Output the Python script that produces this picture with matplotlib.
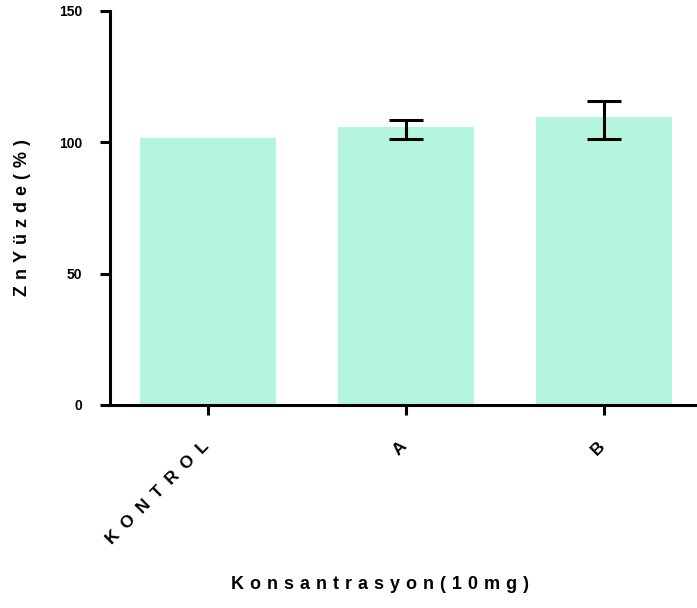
import numpy as np
import matplotlib
matplotlib.use("Agg")
import matplotlib.pyplot as plt
import matplotlib.transforms as mtransforms

plt.rcParams["font.family"] = ["Liberation Sans", "DejaVu Sans"]
plt.rcParams["font.weight"] = "bold"

groups = ["KONTROL", "A", "B"]
means = [101.5, 106.0, 109.8]
err_low = [0.0, 4.6, 8.4]
err_high = [0.0, 2.6, 5.9]
yticks = [0, 50, 100, 150]


def spaced(s, sep="\u2004"):
    # wide letter spacing like the original export
    return sep.join(s)


fig = plt.figure(figsize=(6.97, 6.08), dpi=100)
ax = fig.add_axes([0.158, 0.334, 0.842, 0.648])

x = np.arange(len(groups))
ax.bar(x, means, width=0.69, color="#b4f5de", zorder=1)
ax.errorbar(x[1:], means[1:], yerr=[err_low[1:], err_high[1:]], fmt="none",
            ecolor="black", elinewidth=2.2, capsize=12, capthick=2.2, zorder=2)

ax.set_xlim(-0.495, 2.47)
ax.set_ylim(0, 150)
ax.set_yticks(yticks)
ax.set_yticklabels([str(v) for v in yticks], fontsize=10, fontweight="bold")
ax.set_xticks(x)
ax.set_xticklabels([spaced(g, "\u2002") for g in groups], rotation=45,
                   ha="right", rotation_mode="anchor", fontsize=12.5,
                   fontweight="bold")

for side in ["top", "right"]:
    ax.spines[side].set_visible(False)
for side in ["left", "bottom"]:
    ax.spines[side].set_linewidth(2.2)
ax.tick_params(axis="both", length=7, width=2.2)
ax.tick_params(axis="y", pad=13)
ax.tick_params(axis="x", pad=20)

# nudge rotated labels (after tick_params, which resets transforms)
shift = mtransforms.ScaledTranslation(-5 / 72, 3 / 72, fig.dpi_scale_trans)
for lbl in ax.get_xticklabels():
    lbl.set_transform(lbl.get_transform() + shift)

ax.set_ylabel(spaced("ZnYüzde(%)"), fontsize=13, fontweight="bold")
ax.yaxis.set_label_coords(-0.15, 0.475)
ax.yaxis.label.set_va("center")
ax.set_xlabel(spaced("Konsantrasyon(10mg)"), fontsize=13, fontweight="bold")
ax.xaxis.set_label_coords(0.46, -0.457)
ax.xaxis.label.set_va("center")

fig.savefig("out.png", dpi=100)
plt.close(fig)
